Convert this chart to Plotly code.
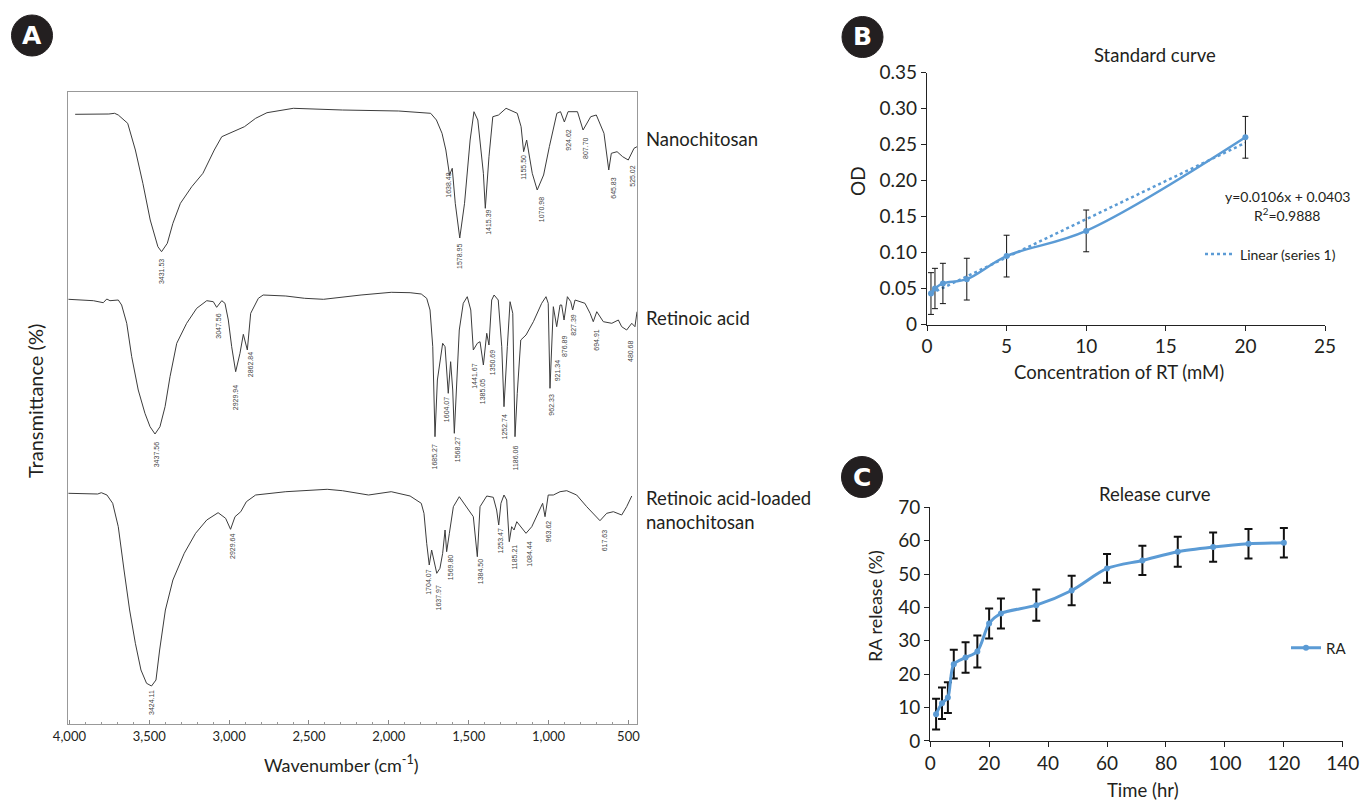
import plotly.graph_objects as go

W, H = 1362, 803
FONT = "Lato"
BLUE = "#5b9bd5"
TXT = "#231f20"


def fx(x):
    return x / W


def fy(y):
    return 1 - y / H


# ---------------- Panel A : FTIR spectra (wavenumber, relative transmittance) ----------------
nano_w = [3964, 3823, 3753, 3717, 3694, 3635, 3587, 3540, 3494, 3446, 3423, 3387, 3352, 3305,
          3234, 3164, 3093, 3046, 2975, 2904, 2834, 2763, 2598, 2291, 1938, 1797, 1738, 1702,
          1667, 1643, 1620, 1603, 1584, 1556, 1526, 1491, 1467, 1443, 1408, 1396, 1373, 1349,
          1313, 1266, 1196, 1172, 1156, 1137, 1102, 1071, 1031, 995, 948, 925, 901, 878, 819,
          784, 736, 701, 653, 623, 607, 571, 536, 501, 465, 446]
nano_t = [609.7, 609.7, 610, 610.7, 609, 600.7, 574, 540.7, 504, 477.3, 472.3, 480.7, 500.7,
          520.7, 537.3, 550.7, 574, 587.3, 592.3, 597.3, 605.7, 611.3, 615.7, 614, 613, 611.3,
          610.7, 604, 590.7, 574, 549, 555.7, 520.7, 486, 520.7, 584, 612.3, 604, 550.7, 515.7,
          567.3, 607.3, 609, 615.7, 610.7, 597.3, 572.3, 584, 550.7, 534, 549, 577.3, 610.7,
          612.3, 602, 612.3, 612.3, 594, 607.3, 609, 590.7, 554, 570.7, 572.3, 567.3, 564,
          575.7, 577.3]

ra_w = [4006, 3850, 3788, 3766, 3746, 3694, 3673, 3641, 3610, 3569, 3527, 3495, 3464, 3433,
        3401, 3370, 3328, 3266, 3203, 3140, 3099, 3078, 3046, 3026, 3005, 2984, 2959, 2932,
        2911, 2886, 2865, 2849, 2817, 2787, 2645, 2527, 2409, 2174, 1985, 1867, 1797, 1763,
        1742, 1725, 1711, 1696, 1684, 1663, 1648, 1628, 1613, 1600, 1590, 1575, 1559, 1534,
        1509, 1487, 1471, 1446, 1429, 1408, 1387, 1373, 1356, 1341, 1315, 1293, 1279, 1258,
        1241, 1224, 1210, 1196, 1174, 1141, 1095, 1043, 1016, 1002, 991, 970, 949, 928, 918,
        903, 882, 861, 849, 834, 772, 740, 720, 698, 657, 604, 563, 542, 511, 479, 459, 446]
ra_t = [424.7, 423.3, 421.3, 425, 423.3, 424, 419, 400.7, 367.3, 334, 310.7, 297.3, 290, 297.3,
        317.3, 347.3, 380.7, 400.7, 415.7, 423.3, 422.3, 416.7, 423.3, 420.7, 404, 377.3, 352.3,
        370.7, 389.7, 374, 410.7, 415.7, 425.7, 429, 428, 425.7, 424.7, 429, 431.7, 431.3, 430,
        425.7, 414, 377.3, 287.3, 344, 355.7, 380.7, 377.3, 330.7, 362.3, 334, 290.7, 344, 394,
        420.7, 427.3, 414, 374, 380.7, 382.3, 359, 390.7, 379, 424, 429, 424, 377.3, 317.3,
        377.3, 422.3, 410.7, 287.3, 330.7, 384, 389, 402.3, 420.7, 427.3, 420.7, 335.7, 417.3,
        397.3, 419, 419, 404, 427.3, 422.3, 414, 424, 420.7, 410.7, 402.3, 412.3, 402.3, 400.7,
        404, 397.3, 394, 400.7, 397.3, 412.3]

load_w = [4006, 3917, 3823, 3800, 3765, 3729, 3694, 3658, 3623, 3587, 3552, 3517, 3486, 3458,
          3435, 3399, 3352, 3281, 3210, 3140, 3069, 3022, 2991, 2963, 2927, 2892, 2834, 2645,
          2457, 2409, 2386, 2291, 2127, 1985, 1867, 1797, 1780, 1763, 1747, 1732, 1717, 1700,
          1680, 1663, 1648, 1638, 1621, 1596, 1559, 1523, 1492, 1471, 1446, 1429, 1387, 1346,
          1325, 1312, 1298, 1279, 1262, 1246, 1231, 1216, 1199, 1172, 1141, 1105, 1064, 1037,
          1022, 1002, 970, 928, 886, 824, 761, 709, 678, 636, 594, 542, 511, 479]
load_t = [230.7, 230, 230, 231.3, 229, 220.7, 197.3, 154, 114, 80.7, 54, 40.7, 38, 44,
          74, 114, 144, 170.7, 190.7, 204, 211.3, 205.7, 194.7, 207.3, 212.3, 222.3, 229,
          232.3, 234, 234, 234.7, 233.3, 229, 232.3, 228, 220.7, 210.7, 180.7, 159, 174, 164,
          150.7, 155.7, 170.7, 194, 172.3, 190.7, 217.3, 227.3, 219, 211.3, 207.3, 167.3, 217.3,
          228, 226.7, 214, 199, 220.7, 229, 224, 182.3, 197.3, 194, 202.3, 197.3, 190.7, 197.3,
          212.3, 220.7, 207.3, 229, 229, 232.3, 233.3, 229, 217.3, 209, 203.3, 210.7, 212.3,
          209, 217.3, 228]

# peak labels: (text, wavenumber position on the drawn axis, top of label)
nano_peaks = [("3431.53", 3423, 467), ("1638.48", 1628, 553), ("1578.95", 1558, 482),
              ("1415.39", 1377, 516), ("1155.50", 1158, 571), ("1070.98", 1043, 529),
              ("924.62", 880, 597), ("807.70", 772, 589), ("645.83", 598, 549),
              ("525.02", 479, 561)]
ra_peaks = [("3437.56", 3453, 284), ("3047.56", 3068, 412), ("2929.94", 2959, 341),
            ("2862.84", 2865, 374), ("1685.27", 1711, 282), ("1604.07", 1638, 329),
            ("1568.27", 1569, 289), ("1441.67", 1465, 362), ("1385.05", 1412, 347),
            ("1350.69", 1350, 376), ("1252.74", 1273, 312), ("1186.06", 1204, 281),
            ("962.33", 987, 332), ("921.34", 945, 367), ("876.89", 903, 391),
            ("827.39", 849, 412), ("694.91", 705, 397), ("480.68", 490, 386)]
load_peaks = [("3424.11", 3486, 36), ("2929.64", 2979, 192), ("1704.07", 1753, 156),
              ("1637.97", 1686, 141), ("1569.80", 1613, 171), ("1384.50", 1425, 167),
              ("1253.47", 1304, 197), ("1185.21", 1216, 181), ("1084.44", 1121, 184),
              ("963.62", 1002, 206), ("617.63", 651, 197)]

wn_ticks = [4000, 3500, 3000, 2500, 2000, 1500, 1000, 500]
wn_ticktext = ["4,000", "3,500", "3,000", "2,500", "2,000", "1,500", "1,000", "500"]

# ---------------- Panel B : standard curve ----------------
conc_mm = [0.25, 0.5, 1, 2.5, 5, 10, 20]
od = [0.043, 0.050, 0.057, 0.063, 0.095, 0.130, 0.260]
od_err = [0.029, 0.028, 0.028, 0.029, 0.029, 0.029, 0.029]
fit_slope, fit_intercept = 0.0106, 0.0403
od_ticks = [0, 0.05, 0.10, 0.15, 0.20, 0.25, 0.30, 0.35]
od_ticktext = ["0", "0.05", "0.10", "0.15", "0.20", "0.25", "0.30", "0.35"]

# ---------------- Panel C : release curve ----------------
time_hr = [2, 4, 6, 8, 12, 16, 20, 24, 36, 48, 60, 72, 84, 96, 108, 120]
release = [8.0, 11.3, 13.0, 23.0, 25.0, 26.8, 35.2, 38.2, 40.7, 45.1, 51.7, 54.1, 56.7, 58.1,
           59.1, 59.4]
release_err = [4.6, 4.7, 4.6, 4.3, 4.6, 4.8, 4.5, 4.5, 4.7, 4.4, 4.3, 4.4, 4.5, 4.4, 4.4, 4.4]

fig = go.Figure()

for w, t in [(nano_w, nano_t), (ra_w, ra_t), (load_w, load_t)]:
    fig.add_trace(go.Scatter(x=w, y=t, mode="lines", line=dict(color="#3c3c3c", width=1),
                             xaxis="x", yaxis="y", showlegend=False, hoverinfo="skip"))

fit_x = [conc_mm[0], conc_mm[-1]]
fit_y = [fit_slope * v + fit_intercept for v in fit_x]
fig.add_trace(go.Scatter(x=fit_x, y=fit_y, mode="lines", name="Linear (series 1)",
                         line=dict(color=BLUE, width=2.5, dash="dot"),
                         xaxis="x2", yaxis="y2", legend="legend", showlegend=True))
fig.add_trace(go.Scatter(x=conc_mm, y=od, mode="lines+markers", name="series 1",
                         line=dict(color=BLUE, width=2.5, shape="spline", smoothing=1),
                         marker=dict(color=BLUE, size=6),
                         error_y=dict(type="data", array=od_err, color="#111", thickness=1, width=3),
                         xaxis="x2", yaxis="y2", showlegend=False))

fig.add_trace(go.Scatter(x=time_hr, y=release, mode="lines+markers", name="RA",
                         line=dict(color=BLUE, width=3, shape="spline", smoothing=0.8),
                         marker=dict(color=BLUE, size=6),
                         error_y=dict(type="data", array=release_err, color="#111", thickness=2, width=4),
                         xaxis="x3", yaxis="y3", legend="legend2", showlegend=True))

ann = []
for peaks in (nano_peaks, ra_peaks, load_peaks):
    for txt, xw, ytop in peaks:
        ann.append(dict(x=xw, y=ytop, xref="x", yref="y", text=txt, textangle=-90,
                        xanchor="center", yanchor="top", showarrow=False,
                        font=dict(family="Liberation Sans", size=7, color="#444")))


def label(text, x, y, size, angle=0, xanchor="center", align="center"):
    ann.append(dict(x=fx(x), y=fy(y), xref="paper", yref="paper", text=text, textangle=angle,
                    xanchor=xanchor, yanchor="middle", showarrow=False, align=align,
                    font=dict(family=FONT, size=size, color=TXT)))


# Panel A texts
label("Nanochitosan", 644, 139, 18.5, xanchor="left")
label("Retinoic acid", 644, 318, 18.5, xanchor="left")
label("Retinoic acid-loaded<br>nanochitosan", 644, 510, 18.5, xanchor="left", align="left")
label("Transmittance (%)", 35, 401, 20, angle=-90)
label("Wavenumber (cm<sup>-1</sup>)", 341, 764, 18)
# Panel B texts
label("Standard curve", 1155, 55, 18.5)
label("OD", 857, 181, 19, angle=-90)
label("Concentration of RT (mM)", 1119, 372, 18.5)
label("y=0.0106x + 0.0403", 1287, 197, 14)
label("R<sup>2</sup>=0.9888", 1287, 215, 14)
# Panel C texts
label("Release curve", 1155, 494, 18.5)
label("RA release (%)", 875, 606, 18, angle=-90)
label("Time (hr)", 1143, 790, 18.5)

# panel letters
shapes = []
for letter, cx, cy in [("A", 32, 35.5), ("B", 862.5, 37), ("C", 862, 477)]:
    r = 20.5
    shapes.append(dict(type="circle", xref="paper", yref="paper",
                       x0=fx(cx - r), x1=fx(cx + r), y0=fy(cy + r), y1=fy(cy - r),
                       fillcolor="#231f20", line=dict(color="#231f20", width=1)))
    ann.append(dict(x=fx(cx), y=fy(cy), xref="paper", yref="paper", text="<b>%s</b>" % letter,
                    showarrow=False, xanchor="center", yanchor="middle",
                    font=dict(family="DejaVu Sans", size=25, color="white")))

axis_font = dict(family=FONT, size=19, color=TXT)
fig.update_layout(
    width=W, height=H, margin=dict(l=0, r=0, t=0, b=0, pad=0, autoexpand=False),
    paper_bgcolor="white", plot_bgcolor="white",
    annotations=ann, shapes=shapes,
    xaxis=dict(domain=[fx(68), fx(637)], range=[4008.8, 446.2], anchor="y",
               tickvals=wn_ticks, ticktext=wn_ticktext, ticks="inside", ticklen=4,
               tickcolor="#888", minor=dict(dtick=100, ticks="inside", ticklen=2, tickcolor="#999"),
               showline=True, mirror=True, linecolor="#999", linewidth=1,
               showgrid=False, zeroline=False, automargin=False,
               tickfont=dict(family=FONT, size=13, color=TXT)),
    yaxis=dict(domain=[fy(724), fy(92)], range=[0, 632], anchor="x",
               showticklabels=False, ticks="", showline=True, mirror=True, automargin=False,
               linecolor="#999", linewidth=1, showgrid=False, zeroline=False),
    xaxis2=dict(domain=[fx(927), fx(1325)], range=[0, 25], anchor="y2",
                tickvals=[0, 5, 10, 15, 20, 25], ticks="outside", ticklen=5, tickcolor="#222",
                showline=True, linecolor="#222", linewidth=1.2, showgrid=False, zeroline=False,
                automargin=False, tickfont=axis_font),
    yaxis2=dict(domain=[fy(324.5), fy(72.5)], range=[0, 0.35], anchor="x2",
                tickvals=od_ticks, ticktext=od_ticktext, ticks="outside", ticklen=5,
                tickcolor="#222", showline=True, linecolor="#222", linewidth=1.2,
                showgrid=False, zeroline=False, automargin=False, tickfont=axis_font),
    xaxis3=dict(domain=[fx(930.2), fx(1342.8)], range=[0, 140], anchor="y3",
                tickvals=[0, 20, 40, 60, 80, 100, 120, 140], ticks="outside", ticklen=5,
                tickcolor="#222", showline=True, linecolor="#222", linewidth=1.2,
                showgrid=False, zeroline=False, automargin=False, tickfont=axis_font),
    yaxis3=dict(domain=[fy(740.9), fy(507.4)], range=[0, 70], anchor="x3",
                tickvals=[0, 10, 20, 30, 40, 50, 60, 70], ticks="outside", ticklen=5,
                tickcolor="#222", showline=True, linecolor="#222", linewidth=1.2,
                showgrid=False, zeroline=False, automargin=False, tickfont=axis_font),
    legend=dict(x=fx(1200), y=fy(254.5), xanchor="left", yanchor="middle",
                bgcolor="rgba(0,0,0,0)", borderwidth=0, itemwidth=30,
                font=dict(family=FONT, size=14, color=TXT)),
    legend2=dict(x=fx(1286), y=fy(648), xanchor="left", yanchor="middle",
                 bgcolor="rgba(0,0,0,0)", borderwidth=0, itemwidth=30,
                 font=dict(family=FONT, size=15, color=TXT)),
)

fig.write_html("out.html", config={"displayModeBar": False},
               post_script="document.body.style.margin='0';document.body.style.overflow='hidden';")
